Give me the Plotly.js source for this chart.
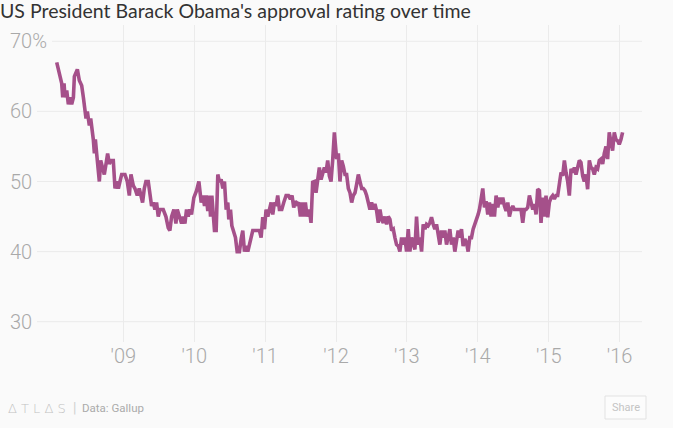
<!DOCTYPE html>
<html>
<head>
<meta charset="utf-8">
<script src="https://cdn.plot.ly/plotly-3.0.1.min.js"></script>
<style>
  html, body { margin: 0; padding: 0; background: #fafafa; }
  #chart { width: 673px; height: 428px; }
</style>
</head>
<body>
<div id="chart"></div>
<script>
// ---- Data (x in decimal years as shown on the axis) ----
const years2008 = [2008.061,2008.131,2008.146,2008.164,2008.178,2008.202,2008.225,2008.249,2008.272,2008.296,2008.310,2008.352,2008.380,2008.413,2008.437,2008.460,2008.474,2008.493,2008.521,2008.540,2008.554,2008.577,2008.592,2008.606,2008.624,2008.638,2008.662,2008.681,2008.709,2008.732,2008.756,2008.779,2008.803,2008.826,2008.859,2008.883,2008.906,2008.930,2008.953,2008.977];
const approval2008 = [67,64,62,64,62,63,61,62,61,62,65,66,64.4,63.7,62,60,59,60,58,59,58,56,54,56,54,52,50,53,52,51,52.5,54,52.5,53,53,49,50,49,50,51];

const years2009 = [2009.023,2009.056,2009.085,2009.108,2009.141,2009.164,2009.197,2009.225,2009.249,2009.272,2009.296,2009.319,2009.352,2009.376,2009.399,2009.423,2009.446,2009.469,2009.493,2009.516,2009.563,2009.601,2009.634,2009.657,2009.681,2009.714,2009.742,2009.761,2009.798,2009.822,2009.845,2009.869,2009.892,2009.915,2009.939,2009.962,2009.995];
const approval2009 = [51,50,48,51,49.4,49,48,49,48,47,49,50,50,48,46.5,47,46,47,45,46,46,45,43.4,43,45,46,44,46,45,44,45,44,46,45,46,45.3,47.7];

const years2010 = [2010.033,2010.066,2010.099,2010.122,2010.146,2010.169,2010.192,2010.216,2010.230,2010.249,2010.268,2010.286,2010.310,2010.333,2010.357,2010.380,2010.404,2010.427,2010.451,2010.474,2010.488,2010.512,2010.531,2010.559,2010.582,2010.606,2010.638,2010.662,2010.685,2010.709,2010.732,2010.756,2010.779,2010.803,2010.826,2010.873,2010.920,2010.944,2010.967,2010.991];
const approval2010 = [48.7,50,47,48,46.5,48,45.8,48,45,48,44.6,43,43,51,49.9,50.3,49,50,46,47,44.6,46,43.7,42.7,42,40,40,41.8,43,40,40.8,40,41,41.5,43,43,43,42,44.9,43.2];

const years2011 = [2011.014,2011.038,2011.061,2011.085,2011.108,2011.131,2011.155,2011.178,2011.202,2011.235,2011.263,2011.296,2011.329,2011.357,2011.380,2011.404,2011.427,2011.451,2011.474,2011.498,2011.521,2011.545,2011.568,2011.592,2011.624,2011.648,2011.671,2011.695,2011.718,2011.742,2011.765,2011.789,2011.812,2011.836,2011.859,2011.883,2011.906,2011.930,2011.953,2011.977];
const approval2011 = [46,45,46,47,45.3,47,46.5,48,46,46,47,48,48,47.5,48,46.3,47.2,46.8,47,45,47,45,47,45,46,44.1,49.9,50,48.4,50,52,50.3,51,52,51.3,53,50.8,50,53,57];

const years2012 = [2012.009,2012.033,2012.056,2012.080,2012.103,2012.127,2012.150,2012.174,2012.197,2012.221,2012.244,2012.268,2012.291,2012.315,2012.338,2012.362,2012.385,2012.408,2012.432,2012.455,2012.479,2012.502,2012.526,2012.549,2012.573,2012.596,2012.620,2012.643,2012.667,2012.690,2012.714,2012.737,2012.761,2012.784,2012.808,2012.831,2012.854,2012.878,2012.901,2012.925,2012.948,2012.972,2012.995];
const approval2012 = [53.2,54,50,53,52.2,51,51,49,48.4,47,48,48.4,49.6,51,50,49,49,48.7,48,47,46,47,46,46.8,45.8,44.1,46,44.6,44.1,45,43.9,45,44.6,43,43.2,42,41,40.8,40,42,41,42,40];

const years2013 = [2013.019,2013.042,2013.066,2013.089,2013.113,2013.136,2013.160,2013.183,2013.207,2013.230,2013.254,2013.277,2013.300,2013.324,2013.347,2013.371,2013.394,2013.418,2013.441,2013.465,2013.488,2013.512,2013.535,2013.559,2013.582,2013.606,2013.629,2013.653,2013.676,2013.700,2013.723,2013.746,2013.770,2013.793,2013.817,2013.840,2013.864,2013.887,2013.911,2013.934,2013.958,2013.981];
const approval2013 = [43.2,40,42,41,40.3,45,41,42,40,43.9,43.2,43.9,43.7,44.1,44.9,43.9,43.2,43.9,42,41,43,42,43,41,42,43.2,41,42,40,42,43,42,43.2,40.8,41.8,41.3,40,42,42,43.2,44.1,44.6];

const years2014 = [2014.005,2014.023,2014.047,2014.070,2014.094,2014.117,2014.141,2014.164,2014.188,2014.211,2014.235,2014.258,2014.282,2014.305,2014.329,2014.352,2014.376,2014.399,2014.423,2014.446,2014.469,2014.493,2014.516,2014.540,2014.587,2014.610,2014.634,2014.657,2014.681,2014.704,2014.728,2014.751,2014.775,2014.798,2014.822,2014.845,2014.869,2014.892,2014.915,2014.939,2014.962,2014.986];
const approval2014 = [45.3,46,47.5,49,46.3,47.2,45.3,47,45,46.8,45,48,46.3,47.7,46.8,47.7,46.5,45.8,47,45,46,46.5,46,46,46,46,44.1,46,46,46.3,48,47,46,46.8,45.3,48.9,48.7,44.1,47.7,45,48,44.9];

const years2015 = [2015.009,2015.033,2015.056,2015.080,2015.103,2015.127,2015.150,2015.174,2015.197,2015.221,2015.244,2015.268,2015.291,2015.315,2015.338,2015.362,2015.385,2015.408,2015.432,2015.455,2015.479,2015.502,2015.526,2015.549,2015.573,2015.596,2015.620,2015.643,2015.667,2015.690,2015.714,2015.737,2015.761,2015.784,2015.808,2015.831,2015.854,2015.878,2015.901,2015.925,2015.948,2015.972,2015.995];
const approval2015 = [47,47.7,48,47.5,48,48,49.4,51.3,50.8,53,51.3,50,48,51.8,51.3,52,51,51.8,53,52.7,50.8,50,51,48.9,53,52,51.8,51,52,51.8,53,53.2,52.5,54,55,53.2,57,55.6,54.4,57,56,55.8,55.3];

const years2016 = [2016.019,2016.042];
const approval2016 = [56,57];

const xTickVals = [2009,2010,2011,2012,2013,2014,2015,2016];
const xTickText = ["'09","'10","'11","'12","'13","'14","'15","'16"];
const yTickVals = [30,40,50,60,70];
const yTickText = ["30","40","50","60","70%"];

// ---- Build ----
const xs = [].concat(years2008,years2009,years2010,years2011,years2012,years2013,years2014,years2015,years2016);
const ys = [].concat(approval2008,approval2009,approval2010,approval2011,approval2012,approval2013,approval2014,approval2015,approval2016);

const W = 673, H = 428;
const M = {l: 7, r: 31, t: 25, b: 86};
const PW = W - M.l - M.r, PH = H - M.t - M.b;
const px = x => (x - M.l) / PW;        // pixel -> paper x
const py = y => (H - M.b - y) / PH;    // pixel -> paper y

const gridColor = '#ebebeb';
const tickFont = {family: 'Roboto, sans-serif', size: 20, color: '#a9a9a9', weight: 300};

const shapes = yTickVals.map((v, i) => ({
  type: 'line', layer: 'below',
  xref: 'paper', yref: 'y',
  x0: px(yTickText[i].length > 2 ? 52 : 37), x1: 1, y0: v, y1: v,
  line: {color: gridColor, width: 1}
}));
shapes.push({
  type: 'rect', xref: 'paper', yref: 'paper',
  x0: px(605), x1: px(646), y0: py(419), y1: py(396),
  line: {color: '#e2e2e2', width: 1}, fillcolor: '#fcfcfc'
});

const data = [{
  type: 'scatter', mode: 'lines',
  x: xs, y: ys,
  line: {color: '#a5508a', width: 3.6},
  hoverinfo: 'skip'
}];

const layout = {
  width: W, height: H,
  margin: M,
  paper_bgcolor: '#fafafa',
  plot_bgcolor: '#fafafa',
  showlegend: false,
  title: {
    text: "US President Barack Obama's approval rating over time",
    x: 0, xref: 'container', xanchor: 'left',
    y: 1 - 11 / H, yref: 'container', yanchor: 'middle',
    pad: {l: 0, t: 0},
    font: {family: 'Lato, sans-serif', size: 19.5, color: '#333333'}
  },
  xaxis: {
    type: 'linear',
    range: [2009 - (123.3 - M.l) / 70.9, 2009 + (W - M.r - 123.3) / 70.9],
    tickvals: xTickVals, ticktext: xTickText,
    showgrid: true, gridcolor: gridColor, gridwidth: 1,
    zeroline: false, showline: false, ticks: '',
    tickfont: tickFont,
    fixedrange: true
  },
  yaxis: {
    range: [30 - (342 - 321.7) / 7.01, 70 + (41.3 - 25) / 7.01],
    tickvals: yTickVals, ticktext: yTickText,
    ticklabelposition: 'inside',
    showgrid: false, zeroline: false, showline: false, ticks: '',
    tickfont: tickFont,
    fixedrange: true
  },
  shapes: shapes,
  annotations: [
    {xref: 'paper', yref: 'paper', x: px(6), y: py(408), xanchor: 'left', yanchor: 'middle',
     text: 'Δ T L Δ S', showarrow: false,
     font: {family: 'DejaVu Sans, sans-serif', size: 13, color: '#c2c2c2', weight: 300}},
    {xref: 'paper', yref: 'paper', x: px(71), y: py(408), xanchor: 'left', yanchor: 'middle',
     text: '|', showarrow: false,
     font: {family: 'Roboto, sans-serif', size: 14, color: '#d0d0d0'}},
    {xref: 'paper', yref: 'paper', x: px(80), y: py(408), xanchor: 'left', yanchor: 'middle',
     text: 'Data: Gallup', showarrow: false,
     font: {family: 'Roboto, sans-serif', size: 11.5, color: '#ababab'}},
    {xref: 'paper', yref: 'paper', x: px(625.5), y: py(407.5), xanchor: 'center', yanchor: 'middle',
     text: 'Share', showarrow: false,
     font: {family: 'Roboto, sans-serif', size: 11, color: '#c4c4c4'}}
  ]
};

Plotly.newPlot('chart', data, layout, {displayModeBar: false, staticPlot: true});
</script>
</body>
</html>
